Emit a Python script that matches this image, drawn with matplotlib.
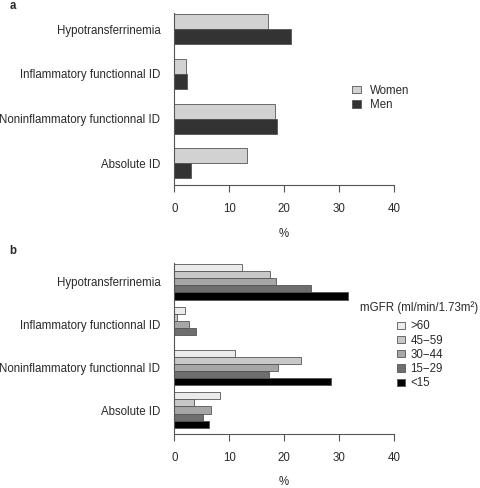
import matplotlib
matplotlib.use('Agg')
import matplotlib.pyplot as plt
from matplotlib.patches import Patch

plt.rcParams['font.family'] = ['Liberation Sans', 'DejaVu Sans']

categories = ['Hypotransferrinemia', 'Inflammatory functionnal ID',
              'Noninflammatory functionnal ID', 'Absolute ID']

# panel a
sex_labels = ['Women', 'Men']
women = [17.1, 2.1, 18.4, 13.3]
men = [21.2, 2.4, 18.7, 3.0]
sex_colors = ['#d2d2d2', '#333333']

# panel b
gfr_labels = ['>60', '45\u221259', '30\u221244', '15\u221229', '<15']
gfr_60 = [12.3, 2.0, 11.0, 8.4]
gfr_45 = [17.5, 0.5, 23.0, 3.6]
gfr_30 = [18.5, 2.6, 18.9, 6.7]
gfr_15 = [24.9, 3.9, 17.2, 5.3]
gfr_lt15 = [31.7, 0.0, 28.5, 6.4]
gfr_colors = ['#ebebeb', '#c8c8c8', '#a6a6a6', '#6e6e6e', '#000000']

xticks = [0, 10, 20, 30, 40]
txt = '#2a2a2a'
axcol = '#555555'
fs = 8.3

fig = plt.figure(figsize=(4.8, 4.88), dpi=100)


def style_axis(ax, ylim, lpad):
    ax.set_xlim(0, 40)
    ax.set_ylim(*ylim)
    ax.set_yticks([3, 2, 1, 0])
    ax.set_yticklabels(categories, fontsize=fs, color=txt)
    ax.set_xticks(xticks)
    ax.set_xticklabels([str(t) for t in xticks], fontsize=fs, color=txt)
    ax.tick_params(axis='y', length=0, pad=10)
    ax.tick_params(axis='x', length=5, width=0.8, color=axcol, pad=8)
    for s in ['top', 'right']:
        ax.spines[s].set_visible(False)
    ax.spines['left'].set_color(axcol)
    ax.spines['bottom'].set_color(axcol)
    ax.spines['left'].set_linewidth(0.8)
    ax.spines['bottom'].set_linewidth(0.8)
    ax.set_xlabel('%', fontsize=fs, color=txt, labelpad=lpad)


pos = [3, 2, 1, 0]

# ---- a ----
ax1 = fig.add_axes([0.3631, 0.6209, 0.4577, 0.3525])
h = 0.336
ax1.barh([p + h / 2 for p in pos], women, height=h, color=sex_colors[0],
         edgecolor='#555555', linewidth=0.6)
ax1.barh([p - h / 2 for p in pos], men, height=h, color=sex_colors[1],
         edgecolor='#555555', linewidth=0.6)
style_axis(ax1, (-0.482, 3.36), 9.5)
handles = [Patch(facecolor=c, edgecolor='#555555', linewidth=0.6) for c in sex_colors]
ax1.legend(handles, sex_labels, loc='upper left', bbox_to_anchor=(0.711, 0.848),
           bbox_transform=fig.transFigure, frameon=False, fontsize=fs,
           handlelength=0.8, handleheight=0.65, handletextpad=0.8, labelspacing=0.2,
           labelcolor=txt)
fig.text(0.02, 0.999, 'a', fontsize=fs, fontweight='bold', va='top', color=txt)

# ---- b ----
ax2 = fig.add_axes([0.3631, 0.1100, 0.4577, 0.3504])
hb = 0.166
series = [gfr_60, gfr_45, gfr_30, gfr_15, gfr_lt15]
for i, vals in enumerate(series):
    ax2.barh([p + (2 - i) * hb for p in pos], vals, height=hb, color=gfr_colors[i],
             edgecolor='#555555', linewidth=0.6)
style_axis(ax2, (-0.569, 3.432), 8.5)
handles = [Patch(facecolor=c, edgecolor='#555555', linewidth=0.6) for c in gfr_colors]
ax2.legend(handles, gfr_labels, loc='upper left', bbox_to_anchor=(0.806, 0.365),
           bbox_transform=fig.transFigure, frameon=False, fontsize=fs,
           handlelength=0.65, handleheight=0.6, handletextpad=0.5,
           labelspacing=0.2, labelcolor=txt)
fig.text(419.5 / 480, 1 - 308 / 488, 'mGFR (ml/min/1.73m\u00b2)', fontsize=fs,
         color=txt, ha='center', va='center')
fig.text(0.02, 0.497, 'b', fontsize=fs, fontweight='bold', va='top', color=txt)

fig.savefig('out.png', dpi=100)
